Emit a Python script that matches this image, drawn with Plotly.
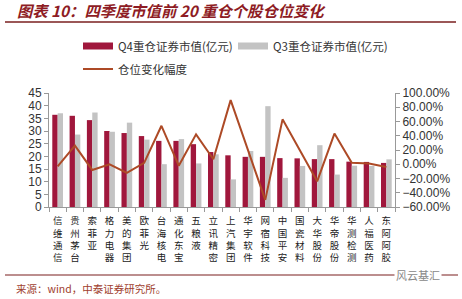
import plotly.graph_objects as go

categories = ["信维通信", "贵州茅台", "索菲亚", "格力电器", "美的集团", "欧菲光", "台海核电",
              "通化东宝", "五粮液", "立讯精密", "上汽集团", "华宇软件", "网宿科技", "中国平安",
              "国瓷材料", "大华股份", "华帝股份", "华测检测", "人福医药", "东阿阿胶"]
q4_values = [36.4, 36.0, 34.3, 30.0, 29.2, 28.0, 26.1, 26.1, 24.8, 21.7,
             20.4, 19.8, 19.8, 19.3, 19.2, 18.9, 18.9, 17.9, 17.8, 17.4]
q3_values = [37.0, 28.6, 37.3, 29.7, 33.3, 26.6, 16.9, 26.8, 17.2, 20.8,
             10.9, 22.1, 39.8, 11.5, 16.2, 24.4, 12.8, 16.3, 16.2, 18.8]
change_pct = [-0.03, 0.26, -0.08, 0.00, -0.12, 0.02, 0.54, -0.02, 0.42, 0.07,
              0.90, 0.20, -0.50, 0.63, 0.20, -0.24, 0.43, 0.02, 0.01, -0.04]

title_text = "图表 10：四季度市值前 20 重仓个股仓位变化"
source_text = "来源：wind，中泰证券研究所。"
watermark_text = "风云基汇"
name_q4 = "Q4重仓证券市值(亿元)"
name_q3 = "Q3重仓证券市值(亿元)"
name_line = "仓位变化幅度"

W, H = 462, 299
L, R, T, B = 49, 395, 93, 207

def px(x):
    return (x - L) / (R - L)

def py(y):
    return (B - y) / (B - T)

cat_labels = ["<br>".join(list(c)) for c in categories]

CJK = "Noto Sans CJK SC"
NUM = "Liberation Sans, Arial, sans-serif"
Q4_COLOR = "#A0173C"
Q3_COLOR = "#C3C3C3"
LINE_COLOR = "#AD4A26"

fig = go.Figure()
fig.add_trace(go.Bar(x=cat_labels, y=q4_values, name=name_q4, marker_color=Q4_COLOR,
                     marker_line_width=0, showlegend=False))
fig.add_trace(go.Bar(x=cat_labels, y=q3_values, name=name_q3, marker_color=Q3_COLOR,
                     marker_line_width=0, showlegend=False))
fig.add_trace(go.Scatter(x=cat_labels, y=change_pct, name=name_line, yaxis="y2", mode="lines",
                         line=dict(color=LINE_COLOR, width=2), legend="legend3", showlegend=True))
# legend proxies (wide rectangular swatches like the original)
fig.add_trace(go.Scatter(x=[None], y=[None], name=name_q4, mode="lines",
                         line=dict(color=Q4_COLOR, width=7), legend="legend", showlegend=True))
fig.add_trace(go.Scatter(x=[None], y=[None], name=name_q3, mode="lines",
                         line=dict(color=Q3_COLOR, width=7), legend="legend2", showlegend=True))

legend_common = dict(font=dict(family=CJK, size=11.5, color="#333"), bgcolor="rgba(0,0,0,0)",
                     xanchor="left", yanchor="middle", itemwidth=30, borderwidth=0, visible=True)

fig.update_layout(
    width=W, height=H, showlegend=True,
    margin=dict(l=L, r=W - R, t=T, b=H - B, autoexpand=False),
    paper_bgcolor="white", plot_bgcolor="white",
    barmode="group", bargap=0.38, bargroupgap=0,
    title=dict(text=title_text, xref="container", yref="container", x=17 / W, y=1 - 12 / H,
               xanchor="left", yanchor="middle", pad=dict(l=0, r=0, t=0, b=0),
               font=dict(family=CJK, size=15.3, color="#8E1C24", style="italic", weight="bold")),
    legend=dict(x=px(78), y=py(46), **legend_common),
    legend2=dict(x=px(233), y=py(46), **legend_common),
    legend3=dict(x=px(78), y=py(69), **legend_common),
    xaxis=dict(showline=True, linecolor="#999", linewidth=1, ticks="outside", tickson="boundaries",
               ticklen=4, tickcolor="#999", tickangle=0, automargin=False, ticklabelstandoff=5,
               tickfont=dict(family=CJK, size=9.5, color="#222"), showgrid=False),
    yaxis=dict(range=[0, 45], dtick=5, showline=True, linecolor="#999", linewidth=1,
               ticks="outside", ticklen=4, tickcolor="#999", showgrid=False, zeroline=False,
               automargin=False, tickfont=dict(family=NUM, size=12, color="#333")),
    yaxis2=dict(range=[-0.6, 1.0], dtick=0.2, tickformat=".2%", overlaying="y", side="right",
                showline=True, linecolor="#999", linewidth=1, ticks="outside", ticklen=4,
                tickcolor="#999", showgrid=False, zeroline=False, automargin=False,
                tickfont=dict(family=NUM, size=12, color="#333")),
    shapes=[
        dict(type="line", xref="paper", yref="paper", x0=px(5), x1=px(456), y0=py(22), y1=py(22),
             line=dict(color="#7A1F1F", width=1.5)),
        dict(type="line", xref="paper", yref="paper", x0=px(5), x1=px(458), y0=py(275), y1=py(275),
             line=dict(color="#7A1F1F", width=1.2)),
    ],
    annotations=[
        dict(text=source_text, xref="paper", yref="paper", x=px(14), y=py(288), xanchor="left",
             yanchor="middle", showarrow=False,
             font=dict(family=CJK, size=10.5, color="#A0402E")),
        dict(text=watermark_text, xref="paper", yref="paper", x=px(418), y=py(275), xanchor="center",
             yanchor="middle", showarrow=False, bgcolor="white",
             font=dict(family=CJK, size=11, color="#888")),
    ],
)

fig.write_html("out.html")
